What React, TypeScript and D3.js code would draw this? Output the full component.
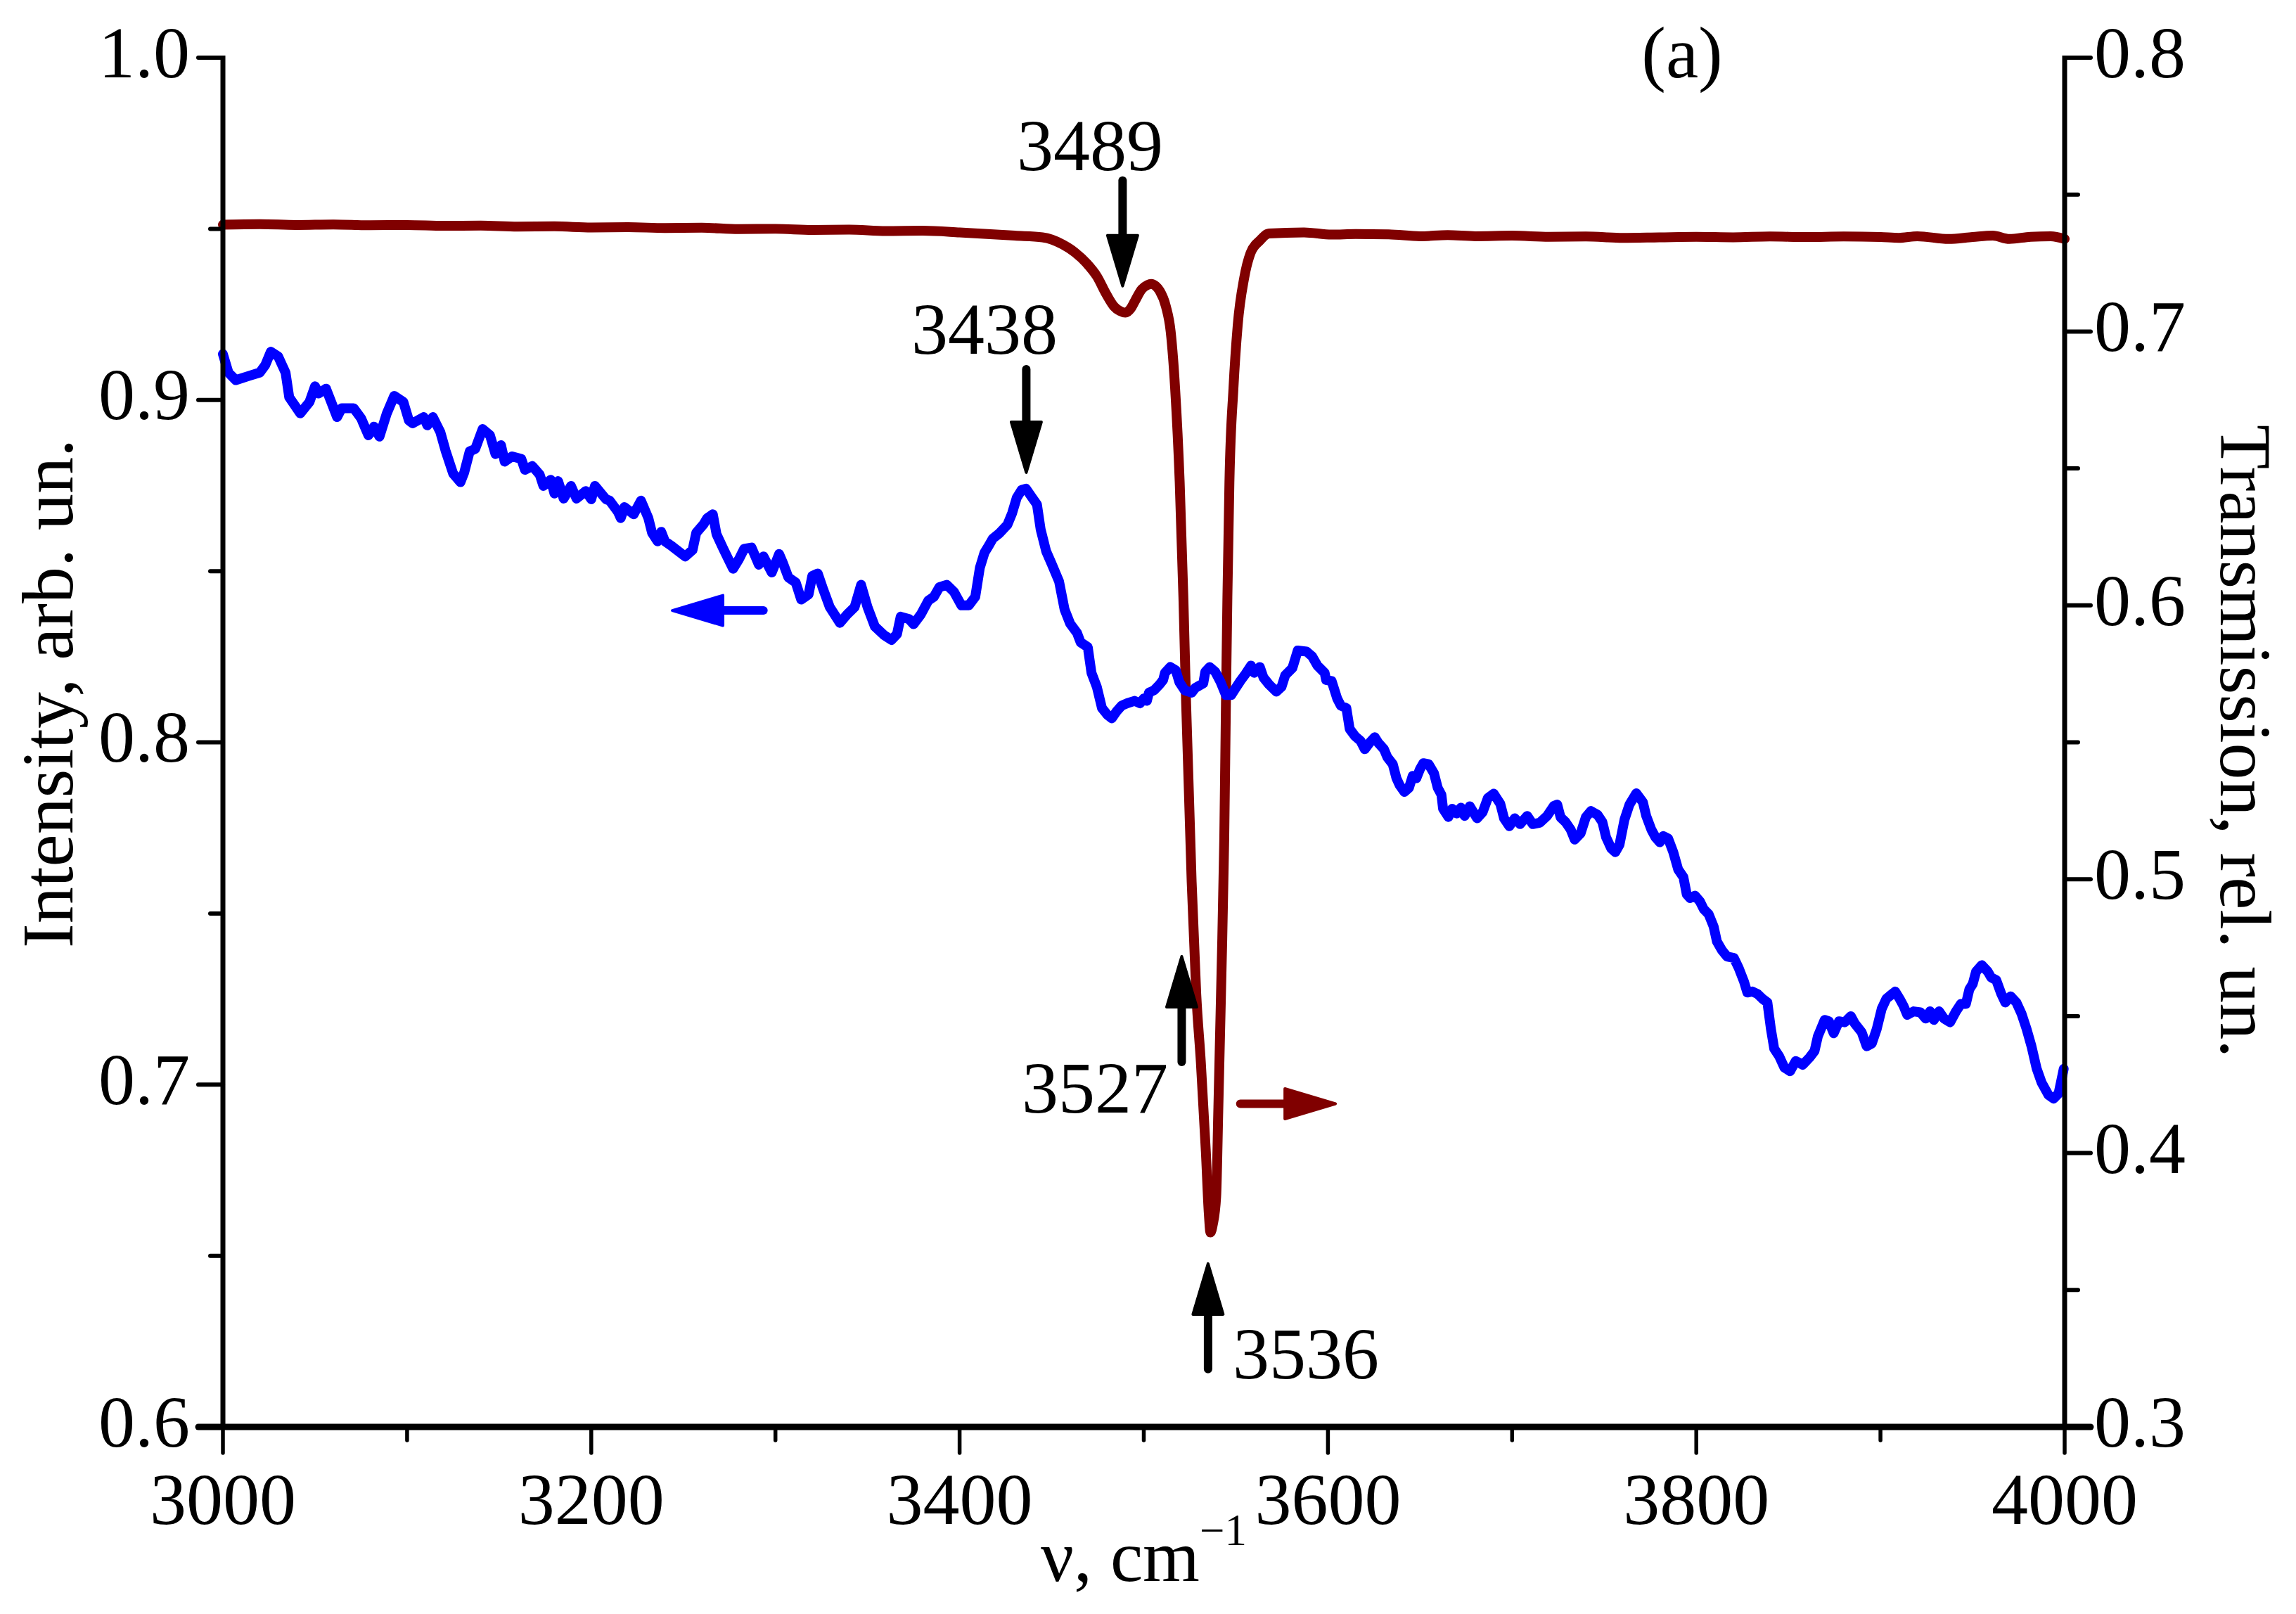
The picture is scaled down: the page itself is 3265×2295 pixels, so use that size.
import React from "react";
import * as d3 from "d3";

// ---------- data ----------
// Intensity (left axis), blue
const blueWn = [
  3000, 3003, 3007, 3014, 3020, 3023, 3026, 3030, 3034, 3036, 3042, 3047, 3050, 3052, 3056, 3062, 3064.5, 3071, 3075, 3079,
  3082, 3085, 3089, 3093, 3098, 3101, 3103, 3109, 3111, 3114, 3118, 3121, 3125, 3129, 3131, 3134, 3137, 3141, 3145, 3148,
  3151, 3153, 3157, 3162, 3164, 3168, 3172, 3174, 3178, 3180, 3182, 3185, 3189, 3192, 3197, 3200, 3202, 3208, 3210, 3214.5,
  3216, 3218, 3223, 3227, 3231, 3233, 3236, 3238, 3240, 3244, 3251, 3255, 3257, 3261, 3263, 3266, 3268, 3272, 3277, 3280,
  3283, 3287, 3291, 3293.5, 3298, 3302, 3304, 3307, 3311, 3314, 3318, 3320, 3323, 3326, 3329.5, 3335, 3339, 3343, 3346.5, 3350,
  3354, 3359, 3363, 3366, 3368, 3372.5, 3375, 3379, 3383, 3386, 3389, 3393, 3397, 3401, 3405, 3408.5, 3411, 3413.5, 3416, 3418,
  3421.5, 3426, 3428.5, 3431, 3433.6, 3436, 3439.5, 3442, 3444, 3447, 3450, 3454, 3457, 3460, 3463.8, 3465.7, 3469.6, 3471.6, 3474.5, 3477.3,
  3480.3, 3482.6, 3485.2, 3488, 3491, 3495, 3498, 3500, 3501.7, 3502.8, 3505.6, 3508.6, 3510.5, 3511.5, 3514.4, 3517.4, 3519.3, 3522.2, 3526, 3528,
  3530, 3532.3, 3533.4, 3535.8, 3538.8, 3541.7, 3544.6, 3547.5, 3549.5, 3552.4, 3555.3, 3558.2, 3560, 3563, 3565, 3568, 3572, 3574.8, 3576.8, 3580.7,
  3583.6, 3588.4, 3591.4, 3594.3, 3598.2, 3599, 3602, 3605, 3607, 3610, 3611.8, 3614.7, 3617.7, 3620, 3622.5, 3625.4, 3627.4, 3630.4, 3632.3, 3635.2,
  3637.2, 3639, 3641.5, 3644, 3646, 3648, 3650, 3651.8, 3654.7, 3657.6, 3659.6, 3661.6, 3662.5, 3665.4, 3667.4, 3669.9, 3672.2, 3674.2, 3677, 3681,
  3684, 3686.8, 3690, 3693.6, 3695.6, 3698.5, 3701.4, 3704.3, 3708.2, 3711.2, 3715, 3719, 3722.6, 3724.5, 3726.3, 3729, 3731.8, 3734, 3737.2, 3740,
  3742.8, 3746.4, 3749, 3751, 3753.8, 3756, 3758.3, 3761, 3763.7, 3767.4, 3771, 3772.8, 3775.6, 3777.8, 3780.2, 3782, 3784.7, 3787.5, 3790.2, 3793,
  3794.8, 3796.6, 3799.3, 3802, 3804, 3806.7, 3809.4, 3811.2, 3814, 3816.7, 3820.4, 3823, 3825.9, 3827.7, 3830.4, 3833.2, 3835.9, 3838.6, 3840.5, 3842.3,
  3845, 3847.8, 3850.9, 3854, 3857.8, 3861.5, 3864.2, 3866, 3869.7, 3872, 3874.6, 3877.5, 3880.6, 3883.9, 3886, 3889.8, 3892.5, 3895.3, 3898, 3900.7,
  3903.2, 3905.7, 3908, 3910.4, 3912.6, 3914.5, 3918, 3921.7, 3924.5, 3926.9, 3929, 3931.8, 3934.5, 3937.8, 3941, 3943.7, 3946.4, 3948.3, 3950.1, 3951.9,
  3955, 3958.3, 3960.1, 3962.9, 3965.6, 3967.8, 3970.7, 3973.8, 3976.6, 3979.3, 3982, 3984.8, 3987.5, 3991.2, 3994, 3996.7, 3999.5,
];
const blueVal = [
  0.9134, 0.908, 0.9058, 0.907, 0.908, 0.9102, 0.9141, 0.9127, 0.908, 0.9008, 0.8961, 0.8994, 0.904, 0.9019, 0.9033, 0.895, 0.8976, 0.8976, 0.8947, 0.8897,
  0.8922, 0.8893, 0.8961, 0.9012, 0.8994, 0.894, 0.8932, 0.895, 0.8926, 0.895, 0.8907, 0.885, 0.8785, 0.876, 0.8788, 0.885, 0.8857, 0.8915, 0.8897, 0.8842,
  0.8868, 0.882, 0.8835, 0.8828, 0.8796, 0.8807, 0.8782, 0.8749, 0.8767, 0.8727, 0.8763, 0.8712, 0.8749, 0.8712, 0.8734, 0.871, 0.8749, 0.871, 0.8706, 0.8673,
  0.8655, 0.8687, 0.8666, 0.8706, 0.8655, 0.8612, 0.8587, 0.8615, 0.8587, 0.8572, 0.8543, 0.8562, 0.8612, 0.8637, 0.8655, 0.8666, 0.8608, 0.8562, 0.8507, 0.8533,
  0.8565, 0.8569, 0.8519, 0.8543, 0.8496, 0.855, 0.8525, 0.8482, 0.8467, 0.8417, 0.8432, 0.8486, 0.8493, 0.8446, 0.8395, 0.8349, 0.8374, 0.8395, 0.846, 0.8395,
  0.8338, 0.8313, 0.8299, 0.8316, 0.8367, 0.836, 0.8345, 0.8374, 0.8414, 0.8425, 0.8453, 0.846, 0.8439, 0.84, 0.84, 0.8425, 0.851, 0.8554, 0.8576, 0.8595,
  0.861, 0.8636, 0.8669, 0.8714, 0.8737, 0.8741, 0.8714, 0.8695, 0.8622, 0.8558, 0.8521, 0.847, 0.8388, 0.8347, 0.8319, 0.8292, 0.8278, 0.8203, 0.8162, 0.81,
  0.808, 0.807, 0.809, 0.8107, 0.8114, 0.8121, 0.8114, 0.8128, 0.8121, 0.8145, 0.8152, 0.8169, 0.8182, 0.8203, 0.822, 0.821, 0.8176, 0.8152, 0.8145, 0.8159,
  0.8165, 0.8172, 0.8206, 0.822, 0.8206, 0.8176, 0.8138, 0.8138, 0.8155, 0.8179, 0.82, 0.8224, 0.8203, 0.822, 0.8189, 0.8169, 0.8148, 0.8162, 0.8196, 0.8217,
  0.8268, 0.8265, 0.8251, 0.8224, 0.8203, 0.8182, 0.8179, 0.8128, 0.8107, 0.81, 0.8039, 0.8018, 0.8004, 0.798, 0.7998, 0.8015, 0.7998, 0.798, 0.7956, 0.7936,
  0.7895, 0.7874, 0.7855, 0.7867, 0.7902, 0.7895, 0.7922, 0.7939, 0.7936, 0.7909, 0.7867, 0.7847, 0.7806, 0.7782, 0.7806, 0.7792, 0.7809, 0.7785, 0.7813, 0.7778,
  0.7796, 0.7837, 0.785, 0.782, 0.7778, 0.7755, 0.7778, 0.7761, 0.7785, 0.7761, 0.7765, 0.7785, 0.7814, 0.7818, 0.7781, 0.7767, 0.7745, 0.7716, 0.7734, 0.7781,
  0.7799, 0.7788, 0.7767, 0.7723, 0.769, 0.7679, 0.7701, 0.7774, 0.7818, 0.7851, 0.7825, 0.7785, 0.7745, 0.7723, 0.7708, 0.7726, 0.7719, 0.7679, 0.7628, 0.7606,
  0.7556, 0.7545, 0.7552, 0.7535, 0.7513, 0.7498, 0.7462, 0.7418, 0.7392, 0.7374, 0.737, 0.7341, 0.7301, 0.7269, 0.7272, 0.7265, 0.7251, 0.724, 0.7163, 0.7105,
  0.7083, 0.705, 0.7039, 0.7069, 0.7058, 0.7079, 0.7098, 0.7141, 0.7189, 0.7185, 0.715, 0.7185, 0.7182, 0.72, 0.7179, 0.7153, 0.7112, 0.712, 0.7163, 0.7222,
  0.7251, 0.7262, 0.7272, 0.7251, 0.7229, 0.7204, 0.7214, 0.7211, 0.7193, 0.7214, 0.7189, 0.7214, 0.7193, 0.7182, 0.7214, 0.7236, 0.7236, 0.7279, 0.7294, 0.733,
  0.7349, 0.733, 0.7313, 0.7305, 0.7265, 0.724, 0.7258, 0.724, 0.7207, 0.7163, 0.7112, 0.7047, 0.7006, 0.697, 0.6959, 0.6974, 0.7046,
];

// Transmission (right axis), dark red
const redWn = [
  3000, 3020, 3040, 3060, 3080, 3100, 3120, 3140, 3160, 3180, 3200, 3220, 3240, 3260, 3280, 3300, 3320, 3340, 3360, 3380,
  3400, 3415, 3430, 3445, 3456, 3462.6, 3469, 3474.6, 3479.6, 3483.8, 3487, 3490, 3493, 3495, 3499, 3502, 3504, 3506.5,
  3508.6, 3512, 3514.6, 3517, 3519.5, 3521.5, 3523, 3526, 3528.5, 3531, 3533.7, 3535.3, 3536.2, 3537.5, 3539.3, 3540.5, 3542.2, 3543.7, 3544.6, 3545.4,
  3546.5, 3548.7, 3551, 3554.5, 3558, 3563, 3568, 3587, 3602, 3615, 3633, 3650, 3665, 3680, 3700, 3720, 3740, 3760, 3780, 3800,
  3820, 3840, 3860, 3880, 3900, 3910, 3920, 3937, 3950, 3961, 3970, 3981.5, 3992.5, 4000,
];
const redVal = [
  0.739, 0.7392, 0.7389, 0.7391, 0.7388, 0.7389, 0.7386, 0.7387, 0.7383, 0.7384, 0.738, 0.7381, 0.7378, 0.7379, 0.7374, 0.7375, 0.7371, 0.7372, 0.7367, 0.7368,
  0.7362, 0.7356, 0.735, 0.7344, 0.7318, 0.7289, 0.7249, 0.7201, 0.7137, 0.7092, 0.7075, 0.7069, 0.7085, 0.7109, 0.7155, 0.717, 0.7174, 0.7166,
  0.7149, 0.7092, 0.7, 0.6794, 0.645, 0.603, 0.564, 0.499, 0.458, 0.433, 0.4005, 0.378, 0.371, 0.374, 0.3841, 0.4168, 0.466, 0.515, 0.564, 0.603,
  0.645, 0.6794, 0.7023, 0.7195, 0.7287, 0.7332, 0.7358, 0.7362, 0.7354, 0.7356, 0.7355, 0.7348, 0.7352, 0.7348, 0.735, 0.7346, 0.7347, 0.7342, 0.7344, 0.7346,
  0.7344, 0.7347, 0.7345, 0.7347, 0.7345, 0.7342, 0.7348, 0.7338, 0.7345, 0.735, 0.7338, 0.7346, 0.7348, 0.7338,
];

const xTicksMajor = [3000, 3200, 3400, 3600, 3800, 4000];
const xTicksMinor = [3100, 3300, 3500, 3700, 3900];
const leftTicksMajor = [0.6, 0.7, 0.8, 0.9, 1.0];
const leftTicksMinor = [0.65, 0.75, 0.85, 0.95];
const rightTicksMajor = [0.3, 0.4, 0.5, 0.6, 0.7, 0.8];
const rightTicksMinor = [0.35, 0.45, 0.55, 0.65, 0.75];

// peak annotations (vertical arrows), in data units
const peakLabels = ["3489", "3438", "3527", "3536"];
const peakAxis = ["right", "left", "right", "right"];
const peakX = [3488.5, 3436.2, 3520.6, 3534.9];
const peakTail = [0.7551, 0.909, 0.4333, 0.3211];
const peakTip = [0.7166, 0.8788, 0.4718, 0.3596];
const peakLabelX = [3470.8, 3413.5, 3473.5, 3588];
const peakLabelY = [0.759, 0.9136, 0.4149, 0.3177];

// axis-indicator arrows (horizontal), in data units
const dirAxis = ["left", "right"];
const dirY = [0.8385, 0.418];
const dirTail = [3293.5, 3552.4];
const dirTip = [3244, 3604.1];

const BLUE = "#0000FF";
const RED = "#800000";
const FONT = "'Liberation Serif', 'Times New Roman', serif";

const W = 3265;
const H = 2295;
const X0 = 317, X1 = 2936, Y0 = 82, Y1 = 2029;

const x = d3.scaleLinear().domain([3000, 4000]).range([X0, X1]);
const yL = d3.scaleLinear().domain([0.6, 1.0]).range([Y1, Y0]);
const yR = d3.scaleLinear().domain([0.3, 0.8]).range([Y1, Y0]);

function Arrow({ x1, y1, x2, y2, color }: { x1: number; y1: number; x2: number; y2: number; color: string }) {
  const HL = 72, HW = 21.5;
  const dx = x2 - x1, dy = y2 - y1;
  const len = Math.hypot(dx, dy);
  const ux = dx / len, uy = dy / len;
  const bx = x2 - ux * HL, by = y2 - uy * HL;
  const px = -uy, py = ux;
  const pts = [
    [x2, y2],
    [bx + px * HW, by + py * HW],
    [bx - px * HW, by - py * HW],
  ];
  return (
    <g>
      <line x1={x1} y1={y1} x2={bx + ux * 2} y2={by + uy * 2} stroke={color} strokeWidth={12} strokeLinecap="round" />
      <polygon points={pts.map((p) => p.join(",")).join(" ")} fill={color} stroke={color} strokeWidth={4} strokeLinejoin="round" />
    </g>
  );
}

export default function App() {
  const blueData = blueWn.map((w, i) => [w, blueVal[i]] as [number, number]);
  const redData = redWn.map((w, i) => [w, redVal[i]] as [number, number]);
  const blueLine = d3.line<[number, number]>().x((d) => x(d[0])).y((d) => yL(d[1])).curve(d3.curveLinear);
  const redLine = d3.line<[number, number]>().x((d) => x(d[0])).y((d) => yR(d[1])).curve(d3.curveMonotoneX);
  const fmt1 = d3.format(".1f");
  const FS = 104;

  return (
    <svg width={W} height={H} style={{ position: "absolute", left: 0, top: 0, display: "block", background: "#fff" }} fontFamily={FONT}>
      <rect x={0} y={0} width={W} height={H} fill="#fff" />

      {/* data lines */}
      <path d={redLine(redData) || ""} fill="none" stroke={RED} strokeWidth={14} strokeLinejoin="round" strokeLinecap="round" />
      <path d={blueLine(blueData) || ""} fill="none" stroke={BLUE} strokeWidth={14} strokeLinejoin="round" strokeLinecap="round" />

      {/* axes */}
      <line x1={X0} y1={Y0 - 3} x2={X0} y2={Y1} stroke="#000" strokeWidth={7} />
      <line x1={X1} y1={Y0 - 3} x2={X1} y2={Y1} stroke="#000" strokeWidth={7} />
      <line x1={X0} y1={Y1} x2={X1} y2={Y1} stroke="#000" strokeWidth={9} />

      {/* left ticks */}
      {leftTicksMajor.map((t) => (
        <line key={"lm" + t} x1={X0 - 35} x2={X0} y1={yL(t)} y2={yL(t)} stroke="#000" strokeWidth={t === 0.6 ? 9 : 6} strokeLinecap="round" />
      ))}
      {leftTicksMinor.map((t) => (
        <line key={"ln" + t} x1={X0 - 18} x2={X0} y1={yL(t)} y2={yL(t)} stroke="#000" strokeWidth={6} strokeLinecap="round" />
      ))}
      {leftTicksMajor.map((t) => (
        <text key={"ll" + t} x={270} y={yL(t) + 27.5} fontSize={FS} textAnchor="end" fill="#000">
          {fmt1(t)}
        </text>
      ))}

      {/* right ticks */}
      {rightTicksMajor.map((t) => (
        <line key={"rm" + t} x1={X1} x2={X1 + 37} y1={yR(t)} y2={yR(t)} stroke="#000" strokeWidth={t === 0.3 ? 9 : 6} strokeLinecap="round" />
      ))}
      {rightTicksMinor.map((t) => (
        <line key={"rn" + t} x1={X1} x2={X1 + 19} y1={yR(t)} y2={yR(t)} stroke="#000" strokeWidth={6} strokeLinecap="round" />
      ))}
      {rightTicksMajor.map((t) => (
        <text key={"rl" + t} x={2978} y={yR(t) + 28} fontSize={FS} textAnchor="start" fill="#000">
          {fmt1(t)}
        </text>
      ))}

      {/* bottom ticks */}
      {xTicksMajor.map((t) => (
        <line key={"xm" + t} x1={x(t)} x2={x(t)} y1={Y1} y2={Y1 + 37} stroke="#000" strokeWidth={5.5} strokeLinecap="round" />
      ))}
      {xTicksMinor.map((t) => (
        <line key={"xn" + t} x1={x(t)} x2={x(t)} y1={Y1} y2={Y1 + 19} stroke="#000" strokeWidth={5.5} strokeLinecap="round" />
      ))}
      {xTicksMajor.map((t) => (
        <text key={"xl" + t} x={x(t)} y={2167} fontSize={FS} textAnchor="middle" fill="#000">
          {String(t)}
        </text>
      ))}

      {/* axis titles */}
      <text x={(X0 + X1) / 2} y={2248} fontSize={FS} textAnchor="middle" fill="#000">
        ν, cm
        <tspan fontSize={63} dy={-51}>−1</tspan>
      </text>
      <text transform={`translate(103,986) rotate(-90)`} fontSize={FS} textAnchor="middle" fill="#000">
        Intensity, arb. un.
      </text>
      <text transform={`translate(3158,1054) rotate(90)`} fontSize={FS} textAnchor="middle" fill="#000">
        Transmission, rel. un.
      </text>
      <text x={2392} y={110} fontSize={FS} textAnchor="middle" fill="#000">
        (a)
      </text>

      {/* peak annotations */}
      {peakLabels.map((lab, i) => {
        const ys = peakAxis[i] === "left" ? yL : yR;
        return (
          <g key={"pk" + lab}>
            <Arrow x1={x(peakX[i])} y1={ys(peakTail[i])} x2={x(peakX[i])} y2={ys(peakTip[i])} color="#000" />
            <text x={x(peakLabelX[i])} y={ys(peakLabelY[i])} fontSize={FS} textAnchor="middle" fill="#000">
              {lab}
            </text>
          </g>
        );
      })}

      {/* axis-direction arrows */}
      {dirAxis.map((ax, i) => {
        const ys = ax === "left" ? yL : yR;
        const c = ax === "left" ? BLUE : RED;
        return <Arrow key={"dir" + i} x1={x(dirTail[i])} y1={ys(dirY[i])} x2={x(dirTip[i])} y2={ys(dirY[i])} color={c} />;
      })}
    </svg>
  );
}
